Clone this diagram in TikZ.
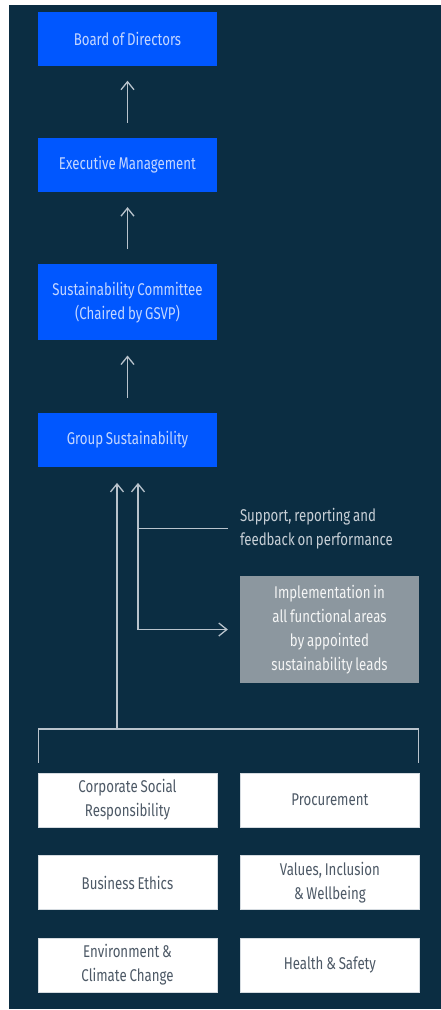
\documentclass[tikz,border=0pt]{standalone}
\usepackage{fontspec}
\setmainfont{Fira Sans}[FakeStretch=0.78, WordSpace=0.8]
\usepackage{xcolor}
\usetikzlibrary{positioning,arrows.meta,calc}

\definecolor{navy}{HTML}{0B2D42}
\definecolor{leadblue}{HTML}{0057FF}
\definecolor{leadtext}{HTML}{C4D6FF}
\definecolor{implgray}{HTML}{8C979F}
\definecolor{unittext}{HTML}{4D5966}
\definecolor{linegray}{HTML}{B9C3CC}

\begin{document}
\begin{tikzpicture}[
    node distance=72pt and 23pt,
    lead/.style={rectangle, fill=leadblue, text=leadtext, minimum width=179pt, minimum height=54pt, align=center, font=\fontsize{17}{24}\selectfont},
    unit/.style={rectangle, fill=white, draw=linegray!60, text=unittext, minimum width=179pt, minimum height=54pt, align=center, font=\fontsize{17}{24}\selectfont},
    impl/.style={rectangle, fill=implgray, text=white!90!implgray, minimum width=179pt, minimum height=107pt, align=center, font=\fontsize{17}{24}\selectfont},
    note/.style={text=linegray!80!white, align=left, inner sep=0pt, font=\fontsize{17}{24}\selectfont},
    line/.style={draw=linegray, line width=1.3pt},
    arrow/.style={line, -{Straight Barb[length=8pt, width=13pt]}},
    twoway/.style={line, {Straight Barb[length=8pt, width=13pt]}-{Straight Barb[length=8pt, width=13pt]}}
]

% Frame
\useasboundingbox (0,0) rectangle (441pt,-1010pt);
\fill[navy] (9pt,-5pt) rectangle (441pt,-1009pt);

% Governance chain
\node[lead] (board) at (127.5pt,-38.5pt) {Board of Directors};
\node[lead, below=of board] (exec) {Executive Management};
\node[lead, below=of exec, minimum height=76pt] (committee) {Sustainability Committee\\(Chaired by GSVP)};
\node[lead, below=of committee] (group) {Group Sustainability};

% Implementation
\node[impl] (impl) at (329.5pt,-629.5pt) {Implementation in\\all functional areas\\by appointed\\sustainability leads};
\node[note, anchor=west] (support) at ($(impl.north west)+(0,47pt)$) {Support, reporting and\\feedback on performance};

% Functional areas
\node[unit, below=306pt of group] (csr) {Corporate Social\\Responsibility};
\node[unit, right=of csr] (proc) {Procurement};
\node[unit, below=28pt of csr] (ethics) {Business Ethics};
\node[unit, right=of ethics] (values) {Values, Inclusion\\\& Wellbeing};
\node[unit, below=28pt of ethics] (env) {Environment \&\\Climate Change};
\node[unit, right=of env] (health) {Health \& Safety};

% Arrows
\draw[arrow, shorten <=15pt, shorten >=15pt] (exec) -- (board);
\draw[arrow, shorten <=15pt, shorten >=15pt] (committee) -- (exec);
\draw[arrow, shorten <=15pt, shorten >=15pt] (group) -- (committee);

\path ([yshift=44pt]csr.north) coordinate (bartop);
\coordinate (bar) at ([xshift=-10.5pt]group.south |- bartop);
\draw[line] ([xshift=1pt, yshift=10pt]csr.north west) |- (bar) -| ([xshift=-1pt, yshift=10pt]proc.north east);
\draw[arrow] (bar) -- ([xshift=-10.5pt, yshift=-16pt]group.south);
\draw[twoway] ([xshift=10.5pt, yshift=-16pt]group.south) |- ([xshift=-12pt]impl.west);
\draw[line] ([xshift=10.5pt]group.south |- support.west) -- ([xshift=-12pt]support.west);

\end{tikzpicture}
\end{document}
